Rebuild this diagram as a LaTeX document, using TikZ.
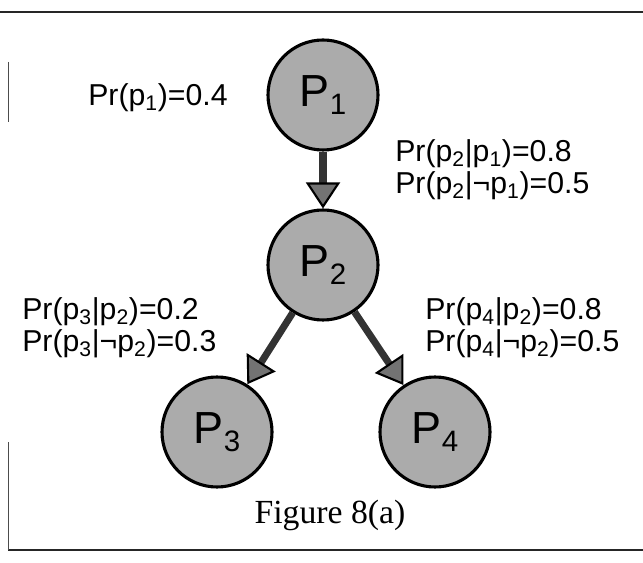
\documentclass[tikz,border=0pt]{standalone}
\usepackage{fontspec}
\setmainfont{Liberation Serif}
\setsansfont{Liberation Sans}
\usepackage{tikz}
\usetikzlibrary{positioning, calc, shapes, arrows.meta}

\newcommand{\lsub}[1]{\textsubscript{#1}}
\newcommand{\bigsub}[1]{\raisebox{-0.2cm}{\fontsize{21}{21}\selectfont #1}}

\begin{document}
\begin{tikzpicture}[
        var/.style={circle, draw=black, line width=2.2pt, fill=black!33, minimum size=2.75cm, inner sep=0pt,
                    font=\sffamily\fontsize{32}{32}\selectfont},
        prob/.style={font=\sffamily\fontsize{21.5}{23}\selectfont, align=left, inner sep=0pt},
        link/.style={draw=black!80, line width=5pt,
                     -{Triangle[width=0.85cm, length=0.65cm, line width=1.5pt, color=black, fill=black!55]}}
    ]

    \useasboundingbox (0,0) rectangle (16.075,14.05);

    % frame
    \draw[line width=1.4pt, black!85] (0,13.75) -- (16.075,13.75);
    \draw[line width=1.4pt, black!85] (0.2,0.3) -- (16.075,0.3);
    \draw[line width=0.6pt, black!70] (0.2,12.5) -- (0.2,11.0);
    \draw[line width=0.6pt, black!70] (0.2,3.0) -- (0.2,0.3);

    \node[var] (p1) at (8.075, 11.675) {P\bigsub{1}};
    \node[var] (p2) at (8.075,  7.425) {P\bigsub{2}};
    \node[var] (p3) at (5.425,  3.25)  {P\bigsub{3}};
    \node[var] (p4) at (10.875, 3.25)  {P\bigsub{4}};

    \node[prob, anchor=west] (pr1) at (2.2, 11.6) {Pr(p\lsub{1})=0.4};
    \node[prob, anchor=west] (pr2) at (9.875, 9.8) {Pr(p\lsub{2}|p\lsub{1})=0.8\\ Pr(p\lsub{2}|¬p\lsub{1})=0.5};
    \node[prob, anchor=west] (pr3) at (0.55, 5.85) {Pr(p\lsub{3}|p\lsub{2})=0.2\\ Pr(p\lsub{3}|¬p\lsub{2})=0.3};
    \node[prob, anchor=west] (pr4) at (10.625, 5.85) {Pr(p\lsub{4}|p\lsub{2})=0.8\\ Pr(p\lsub{4}|¬p\lsub{2})=0.5};

    \node[font=\fontsize{24}{24}\selectfont] (cap) at (8.25, 1.175) {Figure 8(a)};

    \draw[link] (p1) -- (p2);
    \draw[link] (p2) -- (p3);
    \draw[link] (p2) -- (p4);

\end{tikzpicture}
\end{document}
